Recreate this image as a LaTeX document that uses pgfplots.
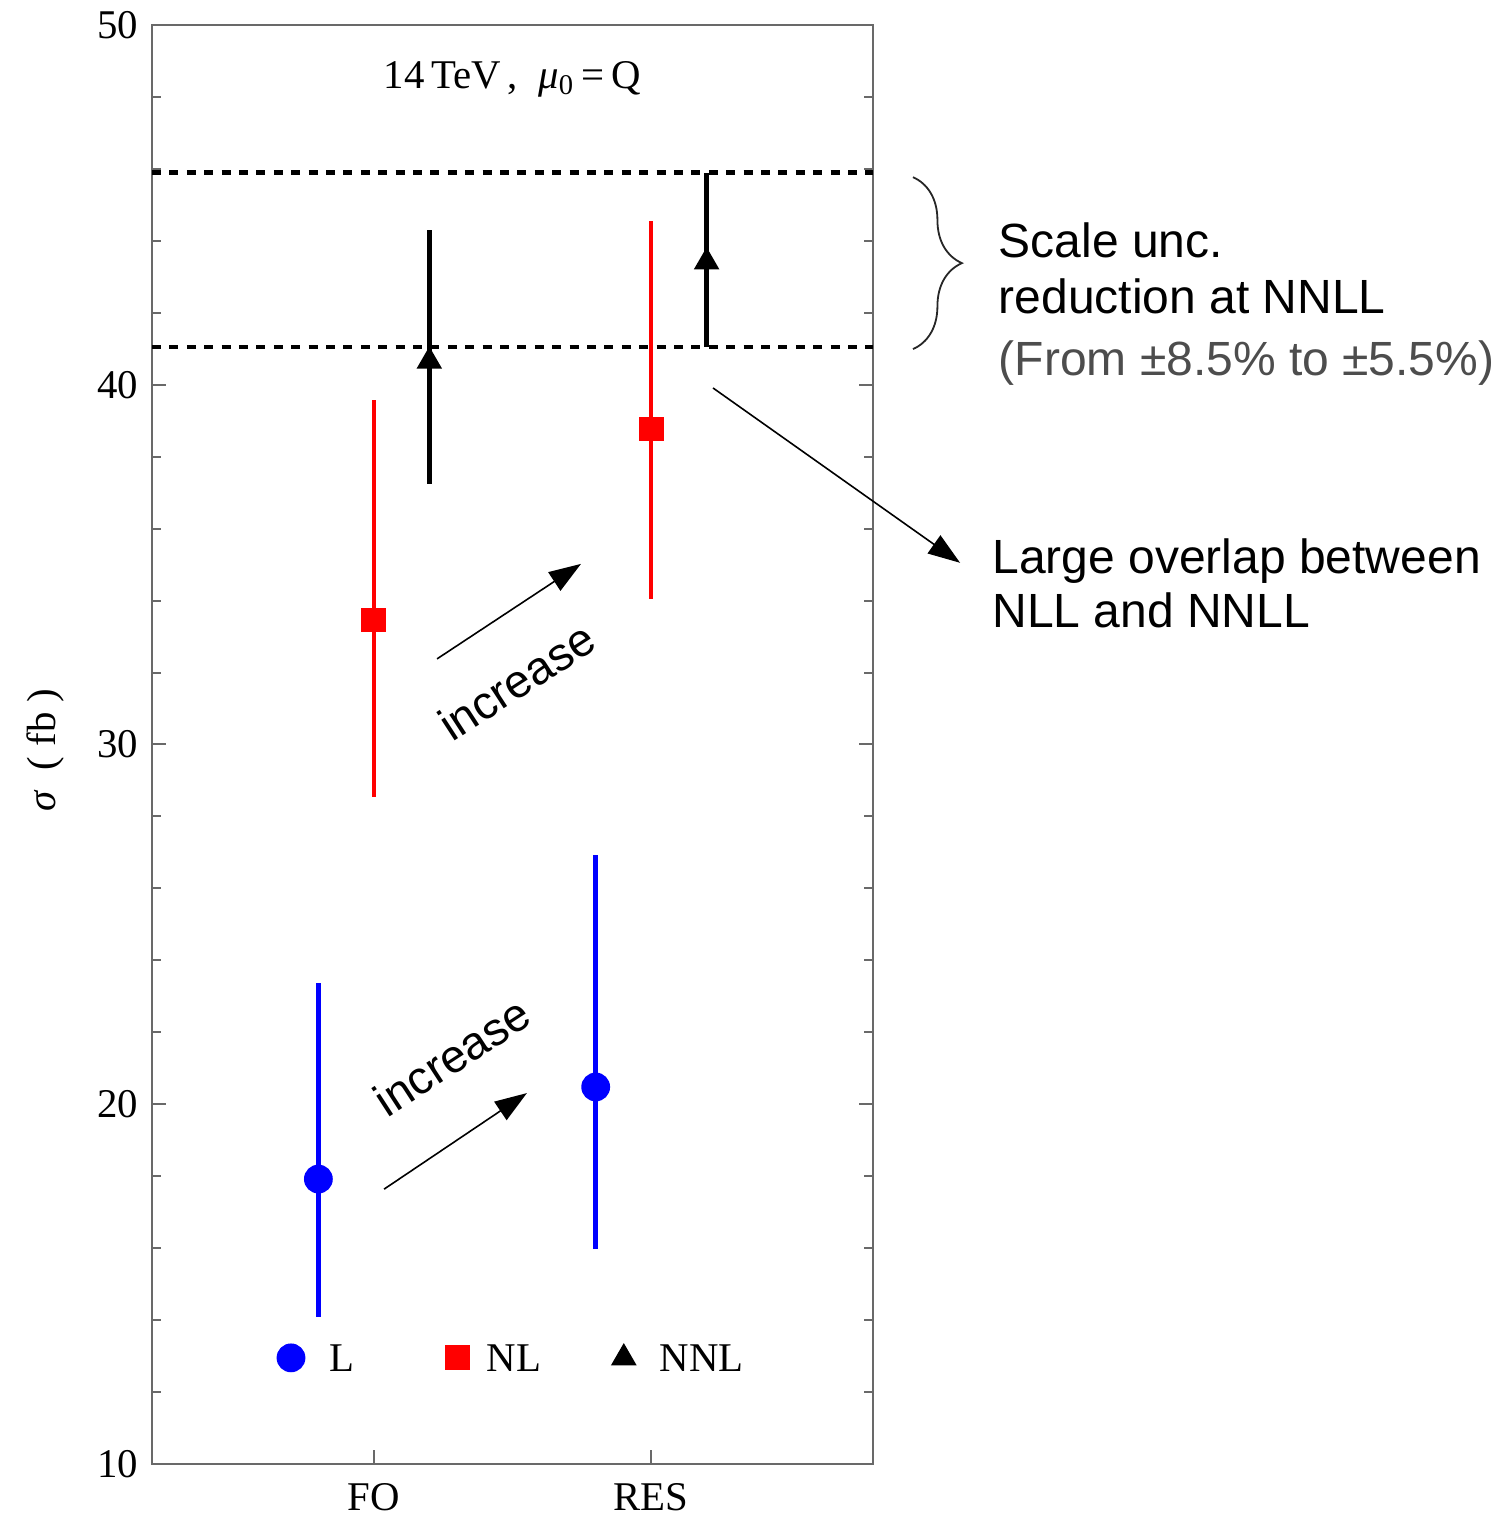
\documentclass[border=0pt]{standalone}
\usepackage{fontspec}
\setmainfont{Liberation Serif}
\newfontfamily\sansf{Liberation Sans}
\usepackage{pgfplots}
\pgfplotsset{compat=1.18}
\usetikzlibrary{arrows.meta,decorations.pathreplacing}
\definecolor{framegray}{RGB}{105,105,105}
\definecolor{notegray}{RGB}{77,77,77}

\begin{document}
\begin{tikzpicture}
\begin{axis}[
  scale only axis,
  width=180.25pt, height=359.75pt,
  xmin=0.2, xmax=2.8, ymin=10, ymax=50,
  clip=false,
  xtick={1,2}, xticklabels={FO,RES},
  xtick pos=bottom,
  ytick={10,20,30,40,50},
  minor y tick num=4,
  ytick pos=both, yticklabel pos=left,
  tick align=inside,
  major tick length=3.5pt, minor tick length=2.25pt,
  axis line style={framegray, line width=0.5pt},
  tick style={framegray, line width=0.5pt},
  tick label style={font=\fontsize{10.2}{12}\selectfont},
  xticklabel style={yshift=-1.3pt},
  /pgf/number format/assume math mode=true,
  ylabel={\textit{σ}\enspace( fb )},
  label style={font=\fontsize{10.2}{12}\selectfont},
  ylabel style={at={(axis description cs:-0.148,0.496)}, anchor=center},
  legend columns=3,
  legend style={draw=none, fill=none, inner sep=0pt, outer sep=0pt,
    at={(axis cs:0.6522,12.95)}, anchor=west,
    font=\fontsize{10.2}{12}\selectfont,
    nodes={inner sep=0pt, text depth=0pt},
    /tikz/every odd column/.append style={column sep=4pt}},
  legend image code/.code={\path[draw=none, fill=none] (-3.4pt,-3.4pt) rectangle (3.4pt,3.4pt); \draw[#1] plot coordinates {(0pt,0pt)};},
]

\addplot[blue, only marks, mark=*, mark size=3.4pt,
  error bars/.cd, y dir=both, y explicit, error mark=none,
  error bar style={line width=1.1pt, solid, blue}]
  coordinates {(0.8,17.92) += (0,5.45) -= (0,3.83) (1.8,20.48) += (0,6.45) -= (0,4.50)};
\addlegendentry{\makebox[30.8pt][l]{\hspace{2.35pt}L}}

\addplot[red, only marks, mark=square*, mark size=2.9pt,
  error bars/.cd, y dir=both, y explicit, error mark=none,
  error bar style={line width=1.1pt, solid, red}]
  coordinates {(1.0,33.46) += (0,6.12) -= (0,4.92) (2.0,38.77) += (0,5.79) -= (0,4.73)};
\addlegendentry{\makebox[30.8pt][l]{NL}}

\addplot[black, only marks, mark=triangle*, mark size=3.3pt,
  error bars/.cd, y dir=both, y explicit, error mark=none,
  error bar style={line width=1.1pt, solid, black}]
  coordinates {(1.2,40.65) += (0,3.65) -= (0,3.41) (2.2,43.41) += (0,2.48) -= (0,2.36)};
\addlegendentry{\hspace{1.6pt}NNL}

\addplot[black, line width=1.2pt, dash pattern=on 2.25pt off 2.1pt, no markers, forget plot]
  coordinates {(0.2,45.89) (2.8,45.89)};
\addplot[black, line width=1.2pt, dash pattern=on 2.25pt off 2.1pt, no markers, forget plot]
  coordinates {(0.2,41.05) (2.8,41.05)};

\node[font=\fontsize{10.2}{12}\selectfont] at (axis cs:1.5,48.5)
  {14\,TeV\,,\enspace\textit{μ}\textsubscript{0}\,=\,Q};

\draw[-{Triangle[length=8pt,width=5.5pt]}, line width=0.4pt]
  (axis cs:1.228,32.38) -- (axis cs:1.747,35.02);
\draw[-{Triangle[length=8pt,width=5.5pt]}, line width=0.4pt]
  (axis cs:1.037,17.64) -- (axis cs:1.552,20.31);
\node[font=\sansf\fontsize{11.6}{13}\selectfont, rotate=33, inner sep=0pt]
  at (axis cs:1.515,31.76) {increase};
\node[font=\sansf\fontsize{11.6}{13}\selectfont, rotate=33, inner sep=0pt]
  at (axis cs:1.282,21.33) {increase};

\draw[black!85, line width=0.45pt, decorate, decoration={brace, amplitude=12.25pt}]
  (axis cs:2.944,45.77) -- (axis cs:2.944,40.99);

\node[font=\sansf\fontsize{12}{14}\selectfont, anchor=base west, inner sep=0pt]
  at (axis cs:3.251,43.55) {Scale unc.};
\node[font=\sansf\fontsize{12}{14}\selectfont, anchor=base west, inner sep=0pt]
  at (axis cs:3.251,41.99) {reduction at NNLL};
\node[font=\sansf\fontsize{12}{14}\selectfont, anchor=base west, inner sep=0pt, text=notegray]
  at (axis cs:3.251,40.25) {(From ±8.5\% to ±5.5\%)};

\draw[-{Triangle[length=8pt,width=5.5pt]}, line width=0.4pt]
  (axis cs:2.223,39.91) -- (axis cs:3.114,35.05);
\node[font=\sansf\fontsize{12}{14}\selectfont, anchor=base west, inner sep=0pt]
  at (axis cs:3.228,34.75) {Large overlap between};
\node[font=\sansf\fontsize{12}{14}\selectfont, anchor=base west, inner sep=0pt]
  at (axis cs:3.228,33.24) {NLL and NNLL};

\coordinate (bbsw) at (rel axis cs:-0.21082,-0.036831);
\coordinate (bbne) at (rel axis cs:1.86824,1.017373);
\end{axis}
\pgfresetboundingbox
\path[use as bounding box] (bbsw) rectangle (bbne);
\end{tikzpicture}
\end{document}
